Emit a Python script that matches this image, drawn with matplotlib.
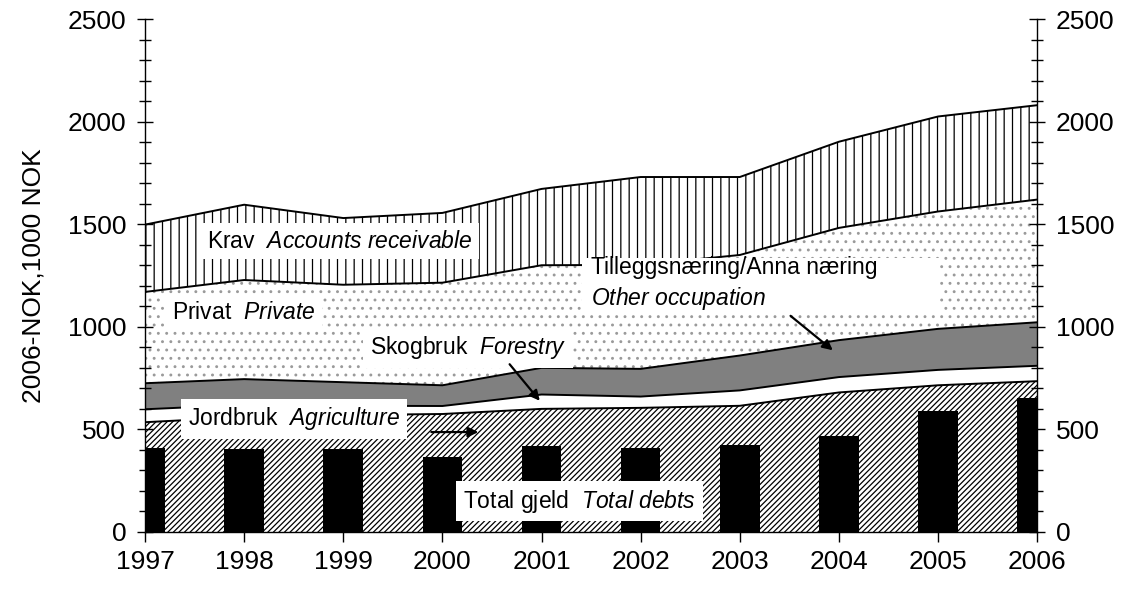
import numpy as np
import matplotlib
matplotlib.use("Agg")
import matplotlib.pyplot as plt
from matplotlib.patches import Rectangle

plt.rcParams['font.family'] = ['Liberation Sans', 'DejaVu Sans']
plt.rcParams['mathtext.fontset'] = 'custom'
plt.rcParams['mathtext.rm'] = 'Liberation Sans'
plt.rcParams['mathtext.it'] = 'Liberation Sans:italic'
plt.rcParams['hatch.linewidth'] = 0.9

years = [1997, 1998, 1999, 2000, 2001, 2002, 2003, 2004, 2005, 2006]
# cumulative tops of the stacked areas (2006-NOK, 1000 NOK)
jordbruk_top = [535, 560, 570, 575, 600, 605, 615, 680, 715, 735]
skogbruk_top = [598, 620, 615, 614, 670, 660, 690, 755, 790, 810]
tillegg_top = [725, 745, 730, 715, 800, 795, 860, 935, 990, 1022]
privat_top = [1170, 1228, 1205, 1215, 1300, 1302, 1350, 1482, 1562, 1620]
krav_top = [1498, 1595, 1530, 1555, 1672, 1730, 1730, 1902, 2025, 2080]
total_debts = [411, 405, 405, 366, 418, 407, 425, 470, 588, 652]

fig = plt.figure(figsize=(11.27, 5.89), dpi=100)
ax = fig.add_axes([0.1287, 0.0968, 0.7916, 0.8709])

zeros = np.zeros(len(years))
ax.fill_between(years, zeros, jordbruk_top, facecolor='white', edgecolor='black',
                hatch='//////', linewidth=0, zorder=1)
ax.fill_between(years, jordbruk_top, skogbruk_top, facecolor='white', linewidth=0, zorder=1)
ax.fill_between(years, skogbruk_top, tillegg_top, facecolor='#808080', linewidth=0, zorder=1)
ax.fill_between(years, tillegg_top, privat_top, facecolor='white', edgecolor='#9a9a9a',
                hatch='..', linewidth=0, zorder=1)
ax.fill_between(years, privat_top, krav_top, facecolor='white', edgecolor='black',
                hatch='||', linewidth=0, zorder=1)
for top in [jordbruk_top, skogbruk_top, tillegg_top, privat_top, krav_top]:
    ax.plot(years, top, color='black', linewidth=1.4, zorder=2)

ax.bar(years, total_debts, width=0.4, color='black', zorder=3)

ax.set_xlim(1997, 2006)
ax.set_ylim(0, 2500)
ax.set_xticks(years)
ax.set_yticks(range(0, 2501, 500))
ax.set_yticks(range(0, 2501, 100), minor=True)
ax.spines['top'].set_visible(False)
for s in ['left', 'right', 'bottom']:
    ax.spines[s].set_linewidth(1.0)
ax.tick_params(axis='y', which='major', direction='inout', length=11, width=1.0,
               right=True, labelright=True, labelsize=19, pad=8)
ax.tick_params(axis='y', which='minor', direction='inout', length=8, width=1.0, right=True)
ax.tick_params(axis='x', direction='out', length=7, width=1.0, labelsize=19, pad=6)
ax.set_ylabel('2006-NOK,1000 NOK', fontsize=19, labelpad=16)

box = dict(boxstyle='square,pad=0.3', facecolor='white', edgecolor='none')
fs = 16.5
ax.text(1997.62, 1418, r'Krav  $\mathit{Accounts\ receivable}$', fontsize=fs,
        va='center', ha='left', bbox=box, zorder=5)
ax.text(1997.27, 1072, r'Privat  $\mathit{Private}$', fontsize=fs,
        va='center', ha='left', bbox=box, zorder=5)
ax.text(1999.27, 897, r'Skogbruk  $\mathit{Forestry}$', fontsize=fs,
        va='center', ha='left', bbox=box, zorder=5)
ax.text(1997.43, 551, r'Jordbruk  $\mathit{Agriculture}$', fontsize=fs,
        va='center', ha='left', bbox=box, zorder=5)
ax.text(2000.21, 151, r'Total gjeld  $\mathit{Total\ debts}$', fontsize=fs,
        va='center', ha='left', bbox=box, zorder=5)
ax.add_patch(Rectangle((2001.41, 1070), 3.6, 267, facecolor='white', edgecolor='none', zorder=4))
ax.text(2001.5, 1291, 'Tilleggsnæring/Anna næring', fontsize=fs,
        va='center', ha='left', zorder=5)
ax.text(2001.5, 1140, r'$\mathit{Other\ occupation}$', fontsize=fs,
        va='center', ha='left', zorder=5)

arrow = dict(arrowstyle='-|>', color='black', linewidth=1.6, mutation_scale=15)
ax.annotate('', xy=(2001.0, 629), xytext=(2000.66, 828), arrowprops=arrow, zorder=6)
ax.annotate('', xy=(2000.39, 487), xytext=(1999.86, 487), arrowprops=arrow, zorder=6)
ax.annotate('', xy=(2003.96, 877), xytext=(2003.49, 1062), arrowprops=arrow, zorder=6)

fig.savefig('out.png', dpi=100)
